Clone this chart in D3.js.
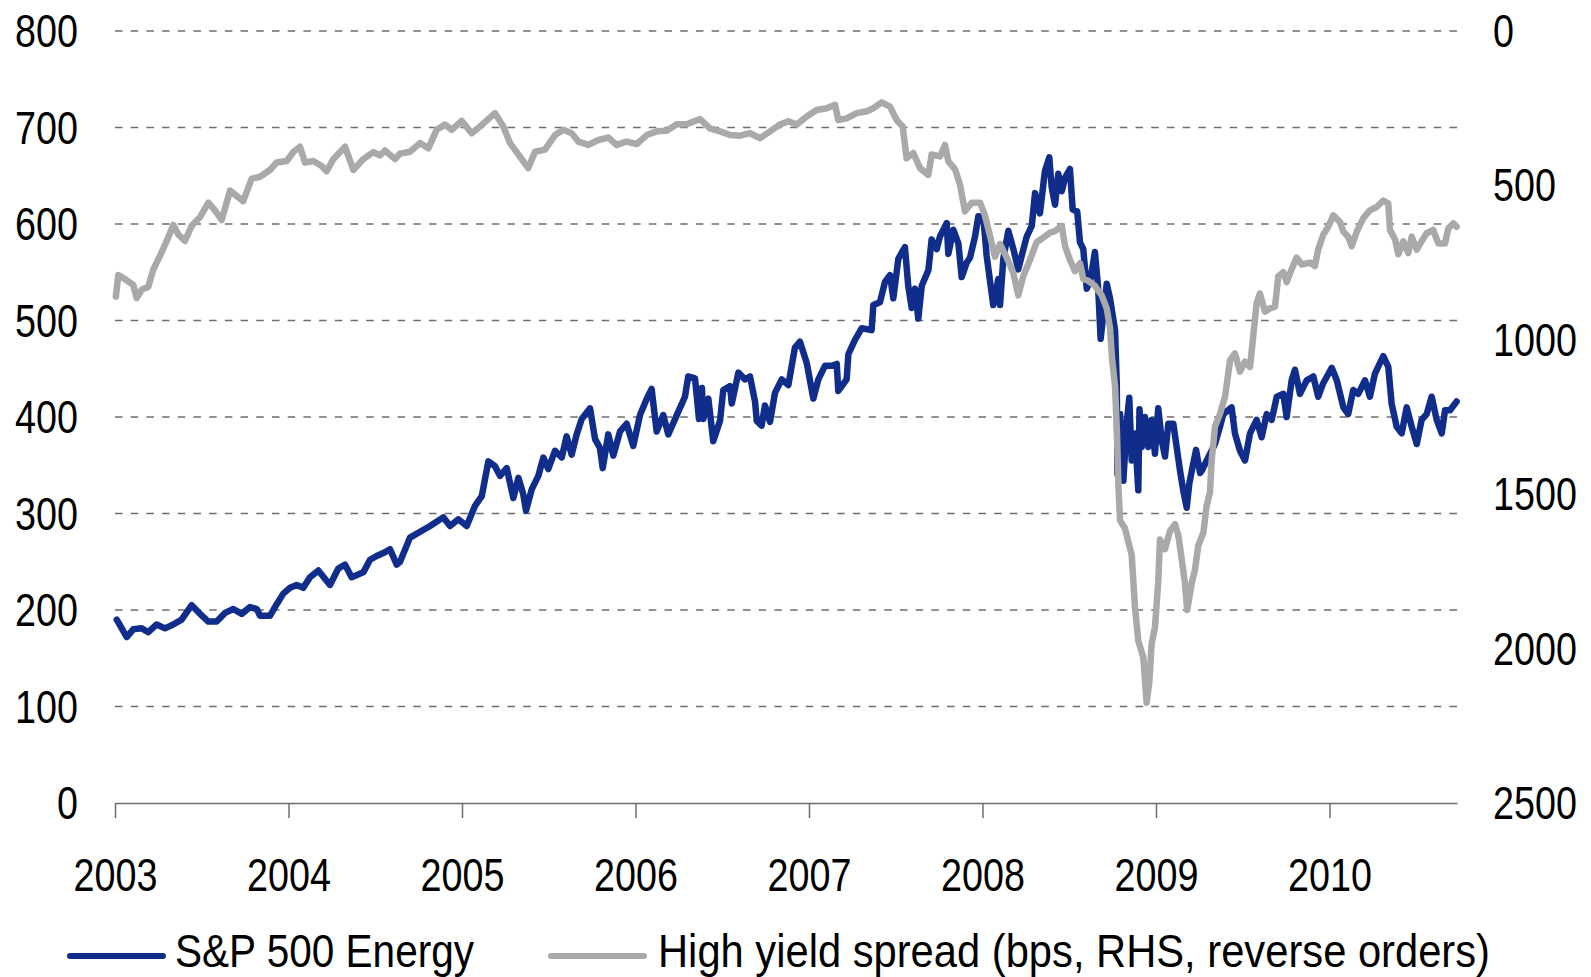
<!DOCTYPE html>
<html>
<head>
<meta charset="utf-8">
<script src="https://cdn.jsdelivr.net/npm/d3@7"></script>
<style>
  body { margin: 0; background: #fff; }
  svg text { font-family: "Liberation Sans", Arial, sans-serif; fill: #000; }
</style>
</head>
<body>
<svg id="chart"></svg>
<script>
// tick labels
var years = [2003, 2004, 2005, 2006, 2007, 2008, 2009, 2010];
var leftTicks = [0, 100, 200, 300, 400, 500, 600, 700, 800];
var rightTicks = [0, 500, 1000, 1500, 2000, 2500];

// S&P 500 Energy (decimal year, index level)
var energyDates = [2003.010,2003.039,2003.067,2003.105,2003.154,2003.192,2003.240,2003.288,2003.336,2003.384,2003.442,2003.490,2003.538,2003.586,2003.634,2003.682,2003.730,2003.778,2003.817,2003.836,2003.893,2003.932,2003.970,2004.009,2004.047,2004.085,2004.124,2004.172,2004.239,2004.287,2004.326,2004.364,2004.431,2004.470,2004.508,2004.546,2004.585,2004.624,2004.643,
  2004.700,
  2004.816,2004.892,2004.931,2004.979,2005.027,2005.075,2005.114,2005.152,2005.190,2005.219,2005.258,2005.296,2005.325,2005.353,2005.369,2005.402,2005.440,2005.469,2005.497,2005.536,2005.575,2005.603,2005.632,2005.661,2005.690,2005.738,2005.767,2005.795,2005.811,2005.843,2005.872,2005.911,2005.949,2005.987,2006.026,2006.065,2006.093,2006.122,2006.160,2006.189,2006.238,2006.285,2006.304,2006.343,2006.366,
  2006.383,2006.391,2006.420,2006.448,2006.487,2006.506,2006.545,2006.555,2006.593,2006.631,2006.660,2006.689,2006.699,2006.727,2006.746,2006.775,2006.804,2006.843,2006.881,2006.919,2006.948,2006.987,2007.025,2007.054,2007.092,2007.131,2007.160,2007.169,2007.217,2007.227,2007.265,2007.304,2007.361,2007.371,2007.409,2007.438,2007.467,2007.486,2007.515,2007.553,2007.572,2007.592,2007.611,2007.630,2007.650,2007.688,2007.707,2007.736,2007.755,2007.794,2007.803,2007.832,2007.861,2007.880,2007.909,2007.928,2007.957,2007.976,2008.005,2008.024,2008.062,2008.091,
  2008.101,2008.120,2008.149,2008.178,2008.206,2008.226,2008.255,2008.284,2008.303,2008.331,2008.360,2008.385,2008.399,2008.418,2008.437,2008.457,2008.476,2008.504,2008.520,2008.546,2008.562,2008.581,2008.601,2008.620,2008.648,2008.667,2008.681,2008.716,2008.735,2008.764,
  2008.774,2008.778,2008.793,2008.812,2008.831,2008.846,2008.860,2008.879,2008.898,2008.905,2008.918,2008.937,2008.956,2008.975,2008.994,2009.013,2009.033,2009.052,2009.071,2009.100,2009.119,2009.138,2009.157,2009.177,2009.192,2009.215,2009.231,2009.254,
  2009.263,2009.301,2009.340,2009.369,2009.388,2009.436,2009.455,2009.484,2009.513,2009.542,2009.580,2009.609,2009.638,2009.667,2009.696,2009.734,2009.753,2009.782,2009.801,2009.830,2009.869,2009.907,2009.935,2009.964,2010.013,2010.042,2010.080,2010.108,2010.137,2010.166,2010.205,2010.233,2010.262,2010.310,2010.339,2010.358,2010.387,2010.416,2010.445,2010.474,2010.503,2010.531,2010.560,2010.589,2010.618,2010.647,2010.666,2010.695,2010.733];
var energyValues = [190,181,172,180,181,177,185,181,185,190,205,196,188,188,197,201,196,203,201,194,194,206,217,223,226,223,234,241,226,243,247,234,239,252,256,259,263,247,250,
  275,
  287,296,287,294,287,308,318,354,349,339,347,316,337,320,303,325,339,358,346,365,358,380,361,382,398,409,377,368,347,382,360,385,393,370,402,419,429,385,402,382,402,421,442,440,398,
  430,398,419,375,396,428,432,414,446,439,442,416,396,391,412,395,425,439,433,472,478,456,419,439,453,453,455,427,439,465,480,492,490,516,519,540,547,523,564,576,536,513,533,502,536,552,584,574,587,601,569,594,580,545,560,565,587,608,607,567,516,543,
  516,564,593,574,553,567,587,598,632,611,655,669,638,620,652,634,648,657,615,613,581,574,533,540,571,533,481,538,523,490,
  434,341,403,334,393,420,355,383,324,408,369,400,369,397,362,409,376,359,393,393,369,345,324,306,331,352,366,342,
  344,358,372,390,403,410,383,365,355,383,397,379,403,397,421,424,400,438,449,424,438,442,421,435,451,438,410,403,428,424,438,421,445,463,452,414,390,383,410,390,372,397,403,421,397,383,407,407,416];

// High yield spread in bps (decimal year, bps)
var spreadDates = [2003.005,2003.019,2003.048,2003.105,2003.125,2003.154,2003.192,2003.221,2003.259,2003.298,2003.336,2003.365,2003.403,2003.442,2003.490,2003.538,2003.576,2003.615,2003.663,2003.701,2003.739,2003.788,2003.836,2003.893,2003.932,2003.990,2004.028,2004.066,2004.095,2004.143,2004.191,2004.220,2004.258,2004.326,2004.374,2004.431,2004.489,2004.527,2004.556,2004.614,2004.643,
  2004.700,2004.758,2004.806,2004.854,2004.902,2004.941,2004.998,2005.056,2005.104,2005.190,2005.238,2005.277,2005.325,2005.382,2005.421,2005.478,2005.536,2005.584,2005.632,2005.670,2005.728,2005.786,2005.843,2005.892,2005.949,2006.007,2006.065,2006.122,2006.180,2006.238,2006.295,2006.372,
  2006.429,2006.487,2006.545,2006.602,2006.660,2006.718,2006.775,2006.833,2006.881,2006.929,2006.987,2007.044,2007.102,2007.150,2007.169,2007.217,2007.275,2007.333,2007.371,2007.419,2007.467,2007.505,2007.540,2007.563,2007.601,2007.640,2007.688,2007.707,2007.755,2007.784,2007.803,2007.842,2007.870,2007.899,2007.938,2007.986,2008.014,2008.043,2008.072,2008.101,
  2008.140,2008.178,2008.206,2008.235,2008.274,2008.312,2008.350,2008.389,2008.418,2008.457,2008.476,2008.504,2008.533,2008.562,2008.581,2008.610,2008.648,2008.687,2008.716,2008.735,2008.746,2008.764,2008.775,2008.784,2008.793,
  2008.821,2008.840,2008.860,2008.879,2008.898,2008.927,2008.946,2008.961,2008.975,2008.994,2009.013,2009.023,2009.052,2009.081,2009.110,2009.129,2009.148,2009.167,2009.180,2009.206,2009.225,2009.244,2009.273,2009.292,2009.311,2009.321,2009.340,2009.369,
  2009.398,2009.427,2009.455,2009.484,2009.513,2009.542,2009.561,2009.580,2009.599,2009.628,2009.657,2009.686,2009.705,2009.734,2009.753,2009.782,2009.811,2009.840,2009.888,2009.916,2009.935,2009.964,2009.993,2010.022,2010.061,2010.080,2010.108,2010.128,2010.157,2010.195,2010.233,2010.272,2010.310,2010.339,2010.349,2010.378,2010.397,2010.425,2010.454,2010.474,2010.503,2010.531,2010.560,2010.598,2010.627,2010.666,2010.685,2010.714,2010.733];
var spreadValues = [860,790,800,822,865,838,828,772,728,680,628,659,680,631,603,556,581,612,517,534,551,478,472,450,426,421,392,375,426,421,437,454,415,375,450,415,392,403,387,415,397,
  391,363,380,320,303,320,291,331,309,266,309,363,400,444,391,384,337,320,331,358,369,353,345,369,358,366,337,325,323,302,302,285,
  315,325,337,339,331,347,325,303,292,303,277,256,250,239,288,283,266,260,250,231,245,288,309,412,395,444,466,400,406,369,422,448,497,584,556,556,597,662,731,690,
  734,784,856,794,741,684,669,653,648,631,697,741,778,752,803,809,825,856,898,962,1056,1150,1300,1480,1585,
  1610,1653,1697,1866,1975,2028,2175,2112,1984,1931,1784,1647,1678,1619,1597,1634,1709,1788,1875,1788,1744,1666,1625,1537,1494,1390,1281,1240,
  1184,1066,1044,1103,1071,1088,986,882,850,909,898,893,794,781,813,771,734,756,750,761,708,660,634,597,619,650,666,697,650,606,581,570,549,559,644,675,723,681,719,666,708,681,655,644,688,688,639,623,634];

var legendNames = ["S&P 500 Energy", "High yield spread (bps, RHS, reverse orders)"];
var blue = "#102d8c", grey = "#a9a9a9";

var width = 1591, height = 977;
var mLeft = 115, mRight = 1457, mTop = 31, mBottom = 803;
var squeeze = 0.82; // narrow the sans font to look like a condensed face

var svg = d3.select("#chart").attr("width", width).attr("height", height);

var x = d3.scaleLinear().domain([2003, 2010.735]).range([mLeft, mRight]);
var yL = d3.scaleLinear().domain([0, 800]).range([mBottom, mTop]);
// right axis runs in reverse order
var yR = d3.scaleLinear().domain([0, 2500]).range([mTop, mBottom]);

// dashed gridlines
svg.append("g")
  .selectAll("line")
  .data(leftTicks.filter(d => d > 0))
  .enter()
  .append("line")
  .attr("x1", mLeft)
  .attr("x2", mRight)
  .attr("y1", d => yL(d))
  .attr("y2", d => yL(d))
  .attr("stroke", "#6e6e6e")
  .attr("stroke-width", 1.3)
  .attr("stroke-dasharray", "7.5,8.2");

// left labels
svg.append("g")
  .selectAll("text")
  .data(leftTicks)
  .enter()
  .append("text")
  .attr("transform", d => "translate(78," + (yL(d) + 16) + ") scale(" + squeeze + ",1)")
  .attr("text-anchor", "end")
  .style("font-size", "46px")
  .text(d => d);

// right labels
svg.append("g")
  .selectAll("text")
  .data(rightTicks)
  .enter()
  .append("text")
  .attr("transform", d => "translate(1493," + (yR(d) + 16) + ") scale(" + squeeze + ",1)")
  .style("font-size", "46px")
  .text(d => d);

// x axis
var xAxis = d3.axisBottom(x)
  .tickValues(years)
  .tickSize(15)
  .tickSizeOuter(0)
  .tickFormat(d3.format("d"));
var gx = svg.append("g")
  .attr("transform", "translate(0," + mBottom + ")")
  .call(xAxis);
gx.select(".domain").attr("stroke", "#6e6e6e").attr("stroke-width", 1.5);
gx.selectAll(".tick line").attr("stroke", "#6e6e6e").attr("stroke-width", 1.5);
gx.selectAll(".tick text")
  .attr("y", 0)
  .attr("dy", 0)
  .attr("transform", "translate(0,88) scale(" + squeeze + ",1)")
  .style("font-size", "46px")
  .attr("fill", "#000");

// series lines
var energyLine = d3.line()
  .x(i => x(energyDates[i]))
  .y(i => yL(energyValues[i]));
var spreadLine = d3.line()
  .x(i => x(spreadDates[i]))
  .y(i => yR(spreadValues[i]));

svg.append("path")
  .attr("d", energyLine(d3.range(energyDates.length)))
  .attr("fill", "none")
  .attr("stroke", blue)
  .attr("stroke-width", 6.5)
  .attr("stroke-linejoin", "round")
  .attr("stroke-linecap", "round");

svg.append("path")
  .attr("d", spreadLine(d3.range(spreadDates.length)))
  .attr("fill", "none")
  .attr("stroke", grey)
  .attr("stroke-width", 6.5)
  .attr("stroke-linejoin", "round")
  .attr("stroke-linecap", "round");

// legend
var legendX = [[70, 163, 175, 299], [551, 644, 658, 832]];
var legendColors = [blue, grey];
var lg = svg.append("g");
legendNames.forEach(function (name, i) {
  lg.append("line")
    .attr("x1", legendX[i][0])
    .attr("x2", legendX[i][1])
    .attr("y1", 956)
    .attr("y2", 956)
    .attr("stroke", legendColors[i])
    .attr("stroke-width", 6)
    .attr("stroke-linecap", "round");
  lg.append("text")
    .attr("x", legendX[i][2])
    .attr("y", 967)
    .attr("textLength", legendX[i][3])
    .attr("lengthAdjust", "spacingAndGlyphs")
    .style("font-size", "46px")
    .text(name);
});
</script>
</body>
</html>
